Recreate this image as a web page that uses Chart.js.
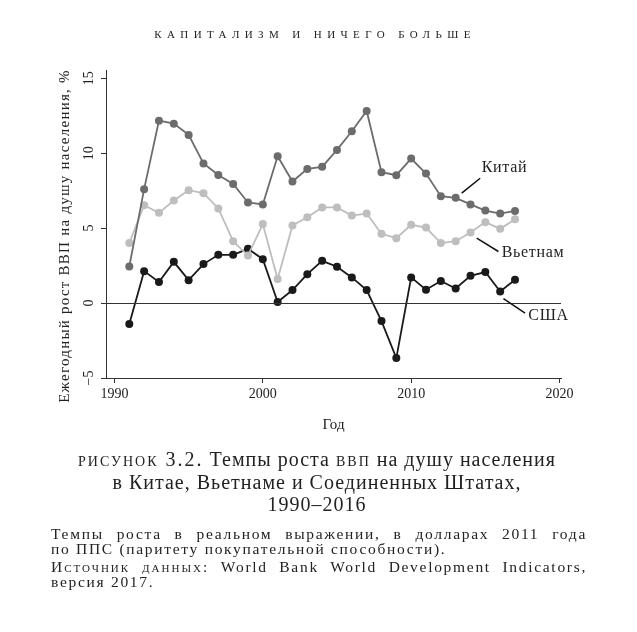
<!DOCTYPE html>
<html>
<head>
<meta charset="utf-8">
<script src="https://cdn.jsdelivr.net/npm/chart.js@4"></script>
<style>
  body { margin: 0; background: #fff; }
  #page { position: relative; width: 637px; height: 632px; overflow: hidden; font-family: "Liberation Serif", serif; color: #222; }
  #graph { position: absolute; left: 0; top: 0; }
  .txt { position: absolute; white-space: nowrap; }
  #head { left: 0; width: 630px; top: 28px; text-align: center; font-size: 11px; line-height: 12px; letter-spacing: 5.4px; }
  .cap { left: 0; width: 634px; text-align: center; font-size: 20px; line-height: 23px; letter-spacing: 1px; }
  .sc { font-variant: small-caps; letter-spacing: 2px; }
  .note { left: 51px; font-size: 15.5px; line-height: 15px; letter-spacing: 1.7px; }
  .just { width: 536px; white-space: normal; text-align: justify; text-align-last: justify; }
</style>
</head>
<body>
<div id="page">
  <canvas id="graph" width="637" height="632"></canvas>
  <div class="txt" id="head">КАПИТАЛИЗМ И НИЧЕГО БОЛЬШЕ</div>
  <div class="txt cap" style="top:448px"><span class="sc">рисунок 3.2.</span> Темпы роста <span class="sc">ввп</span> на душу населения</div>
  <div class="txt cap" style="top:471px">в Китае, Вьетнаме и Соединенных Штатах,</div>
  <div class="txt cap" style="top:493px">1990–2016</div>
  <div class="txt note just" style="top:526px">Темпы роста в реальном выражении, в долларах 2011 года</div>
  <div class="txt note" style="top:541px">по ППС (паритету покупательной способности).</div>
  <div class="txt note just" style="top:559px"><span class="sc">Источник данных:</span> World Bank World Development Indicators,</div>
  <div class="txt note" style="top:574px">версия 2017.</div>
</div>
<script>
// годы и ряды (рост ВВП на душу, %)
var years = [1991,1992,1993,1994,1995,1996,1997,1998,1999,2000,2001,2002,2003,2004,2005,2006,2007,2008,2009,2010,2011,2012,2013,2014,2015,2016,2017];
var china   = [2.44,7.6,12.17,11.97,11.22,9.31,8.55,7.95,6.71,6.58,9.8,8.11,8.95,9.09,10.22,11.46,12.82,8.73,8.53,9.64,8.64,7.13,7.02,6.58,6.17,5.97,6.15];
var vietnam = [4.0,6.53,6.02,6.84,7.53,7.33,6.31,4.13,3.17,5.27,1.6,5.18,5.73,6.38,6.38,5.84,5.97,4.62,4.33,5.22,5.04,4.0,4.13,4.71,5.4,4.95,5.6];
var usa     = [-1.4,2.13,1.4,2.75,1.53,2.6,3.22,3.22,3.62,2.93,0.07,0.87,1.93,2.82,2.42,1.71,0.87,-1.2,-3.67,1.71,0.89,1.47,0.97,1.82,2.07,0.77,1.55];

var xTicks = [1990, 2000, 2010, 2020];
var yTicks = [-5, 0, 5, 10, 15];

// подписи рядов: линия-выноска и текст (в единицах данных)
var seriesLabels = [
  { text: 'Китай',   from: [2013.41, 7.33], to: [2014.65, 8.33], at: [2014.75, 9.0] },
  { text: 'Вьетнам', from: [2014.42, 4.33], to: [2015.88, 3.44], at: [2016.1, 3.35] },
  { text: 'США',     from: [2016.22, 0.29], to: [2017.68, -0.67], at: [2017.9, -0.85] }
];

function pts(vals) {
  return years.map(function (yr, i) { return { x: yr, y: vals[i] }; });
}

function mkSet(label, vals, color) {
  return {
    label: label,
    data: pts(vals),
    borderColor: color,
    backgroundColor: color,
    pointBackgroundColor: color,
    pointBorderColor: color,
    pointRadius: 4,
    pointBorderWidth: 0,
    borderWidth: 1.8,
    tension: 0
  };
}

var serif = '"Liberation Serif", serif';

var extras = {
  id: 'extras',
  afterDatasetsDraw: function (chart) {
    var ctx = chart.ctx, xs = chart.scales.x, ys = chart.scales.y, area = chart.chartArea;
    ctx.save();
    // нулевая линия
    ctx.strokeStyle = '#333';
    ctx.lineWidth = 1;
    var y0 = Math.round(ys.getPixelForValue(0)) + 0.5;
    ctx.beginPath();
    ctx.moveTo(area.left, y0);
    ctx.lineTo(area.right, y0);
    ctx.stroke();
    // подписи рядов
    ctx.strokeStyle = '#111';
    ctx.lineWidth = 1.5;
    ctx.fillStyle = '#222';
    ctx.font = '16px ' + serif;
    ctx.letterSpacing = '0.7px';
    ctx.textBaseline = 'middle';
    ctx.textAlign = 'left';
    seriesLabels.forEach(function (l) {
      ctx.beginPath();
      ctx.moveTo(xs.getPixelForValue(l.from[0]), ys.getPixelForValue(l.from[1]));
      ctx.lineTo(xs.getPixelForValue(l.to[0]), ys.getPixelForValue(l.to[1]));
      ctx.stroke();
      ctx.fillText(l.text, xs.getPixelForValue(l.at[0]), ys.getPixelForValue(l.at[1]));
    });
    // повернутые подписи делений оси Y
    ctx.letterSpacing = '0px';
    ctx.font = '14px ' + serif;
    ctx.textAlign = 'center';
    ctx.textBaseline = 'middle';
    yTicks.forEach(function (v) {
      ctx.save();
      ctx.translate(89, ys.getPixelForValue(v));
      ctx.rotate(-Math.PI / 2);
      ctx.fillText(String(v).replace('-', '\u2212'), 0, 0);
      ctx.restore();
    });
    // заголовок оси Y
    ctx.save();
    ctx.font = '15px ' + serif;
    ctx.letterSpacing = '1.25px';
    ctx.textBaseline = 'alphabetic';
    ctx.translate(69, (area.top + area.bottom) / 2 + 12);
    ctx.rotate(-Math.PI / 2);
    ctx.fillText('Ежегодный рост ВВП на душу населения, %', 0, 0);
    ctx.restore();
    ctx.restore();
  }
};

var ctx = document.getElementById('graph');
var myChart = new Chart(ctx, {
  type: 'line',
  data: {
    datasets: [
      mkSet('Китай', china, '#6c6c6c'),
      mkSet('Вьетнам', vietnam, '#bebebe'),
      mkSet('США', usa, '#1a1a1a')
    ]
  },
  options: {
    responsive: false,
    animation: false,
    events: [],
    layout: { padding: { left: 0, top: 70, right: 76, bottom: 194 } },
    plugins: { legend: { display: false }, tooltip: { enabled: false } },
    scales: {
      x: {
        type: 'linear',
        min: 1989.43,
        max: 2020.1,
        afterBuildTicks: function (s) { s.ticks = xTicks.map(function (v) { return { value: v }; }); },
        afterFit: function (s) { s.height = 60; },
        border: { display: true, color: '#333', width: 1 },
        grid: { drawOnChartArea: false, drawTicks: true, tickLength: 5, color: '#333' },
        ticks: { font: { family: serif, size: 14 }, color: '#222', padding: 3, maxRotation: 0, callback: function (v) { return String(v); } },
        title: { display: true, text: 'Год', font: { family: serif, size: 15 }, color: '#222', padding: { top: 6 } }
      },
      y: {
        min: -5,
        max: 15.55,
        afterBuildTicks: function (s) { s.ticks = yTicks.map(function (v) { return { value: v }; }); },
        afterFit: function (s) { s.width = 106; },
        border: { display: true, color: '#333', width: 1 },
        grid: { drawOnChartArea: false, drawTicks: true, tickLength: 5, color: '#333' },
        ticks: { display: false }
      }
    }
  },
  plugins: [extras]
});
</script>
</body>
</html>
